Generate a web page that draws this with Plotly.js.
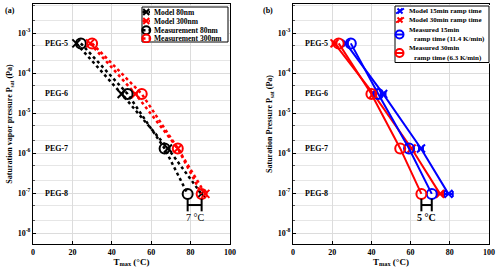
<!DOCTYPE html>
<html><head><meta charset="utf-8">
<script src="https://cdn.plot.ly/plotly-3.0.1.min.js"></script>
<style>body{margin:0;padding:0;background:#fff}#c{width:500px;height:275px}</style>
</head><body><div id="c"></div>
<script>
// ---- data ----
const pegLabels = ['PEG-5','PEG-6','PEG-7','PEG-8'];
const psat = [5.5e-4, 3.0e-5, 1.3e-6, 9.5e-8];
// panel (a)
const model80 = [22.0, 45.0, 68.5, 85.5];
const model300 = [29.0, 52.0, 73.5, 87.5];
const meas80 = [24.3, 48.0, 66.8, 78.5];
const meas300 = [30.0, 55.2, 73.5, 85.6];
// panel (b)
const model15 = [27.0, 46.0, 65.3, 79.3];
const model15Err = [1.0, 1.2, 1.0, 2.2];
const model30 = [21.2, 41.0, 60.5, 75.0];
const model30Err = [1.0, 1.0, 1.0, 1.5];
const meas15 = [29.5, 43.5, 59.2, 70.8];
const meas30 = [23.3, 40.0, 54.7, 65.5];
const xTicks = [0, 20, 40, 60, 80, 100];
const yTickExp = [-8, -7, -6, -5, -4, -3];
const bracketY = 5e-8, bracketTextY = 2.4e-8;
const legendA = ['Model 80nm','Model 300nm','Measurement 80nm','Measurement 300nm'];
const legendB = ['Model 15min ramp time','Model 30min ramp time','Measured 15min','ramp time (11.4 K/min)','Measured 30min','ramp time (6.3 K/min)'];

const FONT = 'Liberation Serif, Times New Roman, serif';
const BLACK = '#000000', RED = '#ff0000', BLUE = '#0000ff';
const traces = [];
function addTrace(x, y, color, symbol, dash, xa, ya, err){
  const t = {x:x, y:y, type:'scatter', mode:'lines+markers', xaxis:xa, yaxis:ya, showlegend:false,
    line:{color:color, width: dash==='dot'?2.5:2, dash:dash},
    marker:{symbol:symbol, color:color, size: symbol.indexOf('circle')>=0?10:8, line:{color:color, width:2}}};
  if (err) t.error_x = {type:'data', array:err, visible:true, color:color, thickness:2, width:3};
  traces.push(t);
}
addTrace(model80, psat, BLACK, 'x-thin', 'dot', 'x', 'y');
addTrace(model300, psat, RED, 'x-thin', 'dot', 'x', 'y');
addTrace(meas80, psat, BLACK, 'circle-open', 'dot', 'x', 'y');
addTrace(meas300, psat, RED, 'circle-open', 'dot', 'x', 'y');
addTrace(model15, psat, BLUE, 'x-thin', 'solid', 'x2', 'y2', model15Err);
addTrace(model30, psat, RED, 'x-thin', 'solid', 'x2', 'y2', model30Err);
addTrace(meas15, psat, BLUE, 'circle-open', 'solid', 'x2', 'y2');
addTrace(meas30, psat, RED, 'circle-open', 'solid', 'x2', 'y2');

// brackets
function bracket(x1, x2, xa, ya){
  traces.push({x:[x1,x2], y:[bracketY,bracketY], xaxis:xa, yaxis:ya, type:'scatter', mode:'lines+markers',
    showlegend:false, hoverinfo:'skip', line:{color:'#000', width:2},
    marker:{symbol:'line-ns', size:9, line:{color:'#000', width:2}}});
}
bracket(meas80[3], meas300[3], 'x', 'y');
bracket(meas30[3], meas15[3], 'x2', 'y2');

const annotations = [];
function pegAnn(xref, yref){
  pegLabels.forEach((p,i)=>annotations.push({x:5, y:Math.log10(psat[i]), xref:xref, yref:yref,
    text:'<b>'+p+'</b>', showarrow:false, xanchor:'left', font:{family:FONT, size:8, color:'#000'}}));
}
pegAnn('x','y'); pegAnn('x2','y2');
annotations.push({x:(meas80[3]+meas300[3])/2, y:Math.log10(bracketTextY), xref:'x', yref:'y', showarrow:false,
  text:Math.round(meas300[3]-meas80[3])+' °C', font:{family:FONT, size:10, color:'#000'}});
annotations.push({x:(meas30[3]+meas15[3])/2, y:Math.log10(bracketTextY), xref:'x2', yref:'y2', showarrow:false,
  text:'<b>'+Math.round(meas15[3]-meas30[3])+' °C</b>', font:{family:FONT, size:10, color:'#000'}});
annotations.push({x:0.006, y:0.985, xref:'paper', yref:'paper', showarrow:false, xanchor:'left', yanchor:'top',
  text:'<b>(a)</b>', font:{family:FONT, size:8, color:'#000'}});
annotations.push({x:0.522, y:0.985, xref:'paper', yref:'paper', showarrow:false, xanchor:'left', yanchor:'top',
  text:'<b>(b)</b>', font:{family:FONT, size:8, color:'#000'}});

// ---- custom compact legends (drawn in hidden overlay axes) ----
const W = 500, H = 275;
function legendAxes(n, x0, y0, x1, y1){
  const w = x1-x0, h = y1-y0;
  const xa = {domain:[(x0-1)/W, (x1+1)/W], range:[-1, w+1], visible:false, anchor:'y'+n, fixedrange:true};
  const ya = {domain:[1-(y1+1)/H, 1-(y0-1)/H], range:[h+1, -1], visible:false, anchor:'x'+n, fixedrange:true};
  traces.push({x:[0,w,w,0,0], y:[0,0,h,h,0], xaxis:'x'+n, yaxis:'y'+n, type:'scatter', mode:'lines',
    fill:'toself', fillcolor:'#ffffff', line:{color:'#000', width:1}, showlegend:false, hoverinfo:'skip'});
  return [xa, ya];
}
function legSample(n, xs, ys, color, symbol, dash, msize){
  traces.push({x:xs, y:ys, xaxis:'x'+n, yaxis:'y'+n, type:'scatter', mode:'lines', showlegend:false, hoverinfo:'skip',
    line:{color:color, width:dash==='dot'?2.5:2, dash:dash}});
  traces.push({x:[(xs[0]+xs[1])/2], y:[(ys[0]+ys[1])/2], xaxis:'x'+n, yaxis:'y'+n, type:'scatter', mode:'markers',
    showlegend:false, hoverinfo:'skip',
    marker:{symbol:symbol, size:msize, color:color, line:{color:color, width:2}}});
}
function legText(n, x, y, t, size){
  annotations.push({x:x, y:y, xref:'x'+n, yref:'y'+n, text:'<b>'+t+'</b>', showarrow:false, xanchor:'left',
    font:{family:FONT, size:size, color:'#000'}});
}
const [xa3, ya3] = legendAxes(3, 142, 7, 228, 42);
const rowsA = [5, 14, 23.3, 31.5];
const colA = [[BLACK,'x-thin','dot',6],[RED,'x-thin','dot',6],[BLACK,'circle-open','dot',8],[RED,'circle-open','dot',8]];
legendA.forEach((t,i)=>{ legSample(3, [0.5,8], [rowsA[i],rowsA[i]], colA[i][0], colA[i][1], colA[i][2], colA[i][3]);
  legText(3, 10, rowsA[i], t, 7.5); });

const [xa4, ya4] = legendAxes(4, 395, 6, 489, 62.5);
const rowsB = [5, 14, 23.5, 33, 42.3, 51.5];
const xB = [12, 12, 12, 17, 12, 17];
legendB.forEach((t,i)=>legText(4, xB[i], rowsB[i], t, 7));
legSample(4, [1,9], [7.5,2.5], BLUE, 'x-thin', 'solid', 5);
legSample(4, [1,9], [16.5,11.5], RED, 'x-thin', 'solid', 5);
legSample(4, [0,9], [28.5,28.5], BLUE, 'circle-open', 'solid', 8);
legSample(4, [0,9], [47,47], RED, 'circle-open', 'solid', 8);

const tickText = yTickExp.map(e=>'<b>10<sup>'+e+'</sup></b>');
const tickVals = yTickExp.map(e=>Math.pow(10,e));
function xaxis(domain, anchor){
  return {domain:domain, anchor:anchor, range:[0,100], tickvals:xTicks, ticktext:xTicks.map(v=>'<b>'+v+'</b>'),
    showgrid:true, gridcolor:'#dcdcdc', gridwidth:1, zeroline:false,
    showline:true, linecolor:'#000', linewidth:1, mirror:true, ticks:'inside', ticklen:3, tickcolor:'#000',
    tickfont:{family:FONT, size:8, color:'#000'},
    title:{text:'<b>T<sub>max</sub> (°C)</b>', font:{family:FONT, size:9, color:'#000'}, standoff:2}};
}
function yaxis(domain, anchor, title){
  return {domain:domain, anchor:anchor, type:'log', range:[-8.275,-2.275], tickvals:tickVals, ticktext:tickText,
    showgrid:true, gridcolor:'#dcdcdc', gridwidth:1, zeroline:false,
    minor:{showgrid:true, gridcolor:'#e6e6e6', ticks:'inside', ticklen:2, tickcolor:'#555'},
    showline:true, linecolor:'#000', linewidth:1, mirror:true, ticks:'inside', ticklen:3, tickcolor:'#000',
    tickfont:{family:FONT, size:8, color:'#000'},
    title:{text:title, font:{family:FONT, size:8, color:'#000'}, standoff:3}};
}
const yDom = [1-244/275, 1-4/275];
const layout = {
  width:500, height:275, margin:{l:0,r:0,t:0,b:0}, paper_bgcolor:'#fff', plot_bgcolor:'#fff',
  font:{family:FONT, color:'#000'}, showlegend:false,
  xaxis: xaxis([33/500, 230/500], 'y'),
  yaxis: yaxis(yDom, 'x', '<b>Saturation vapor pressure P<sub>sat</sub> (Pa)</b>'),
  xaxis2: xaxis([293/500, 489/500], 'y2'),
  yaxis2: yaxis(yDom, 'x2', '<b>Saturation Pressure P<sub>sat</sub> (Pa)</b>'),
  xaxis3: xa3, yaxis3: ya3, xaxis4: xa4, yaxis4: ya4,
  annotations: annotations
};
Plotly.newPlot('c', traces, layout, {displayModeBar:false, staticPlot:true});
</script></body></html>
